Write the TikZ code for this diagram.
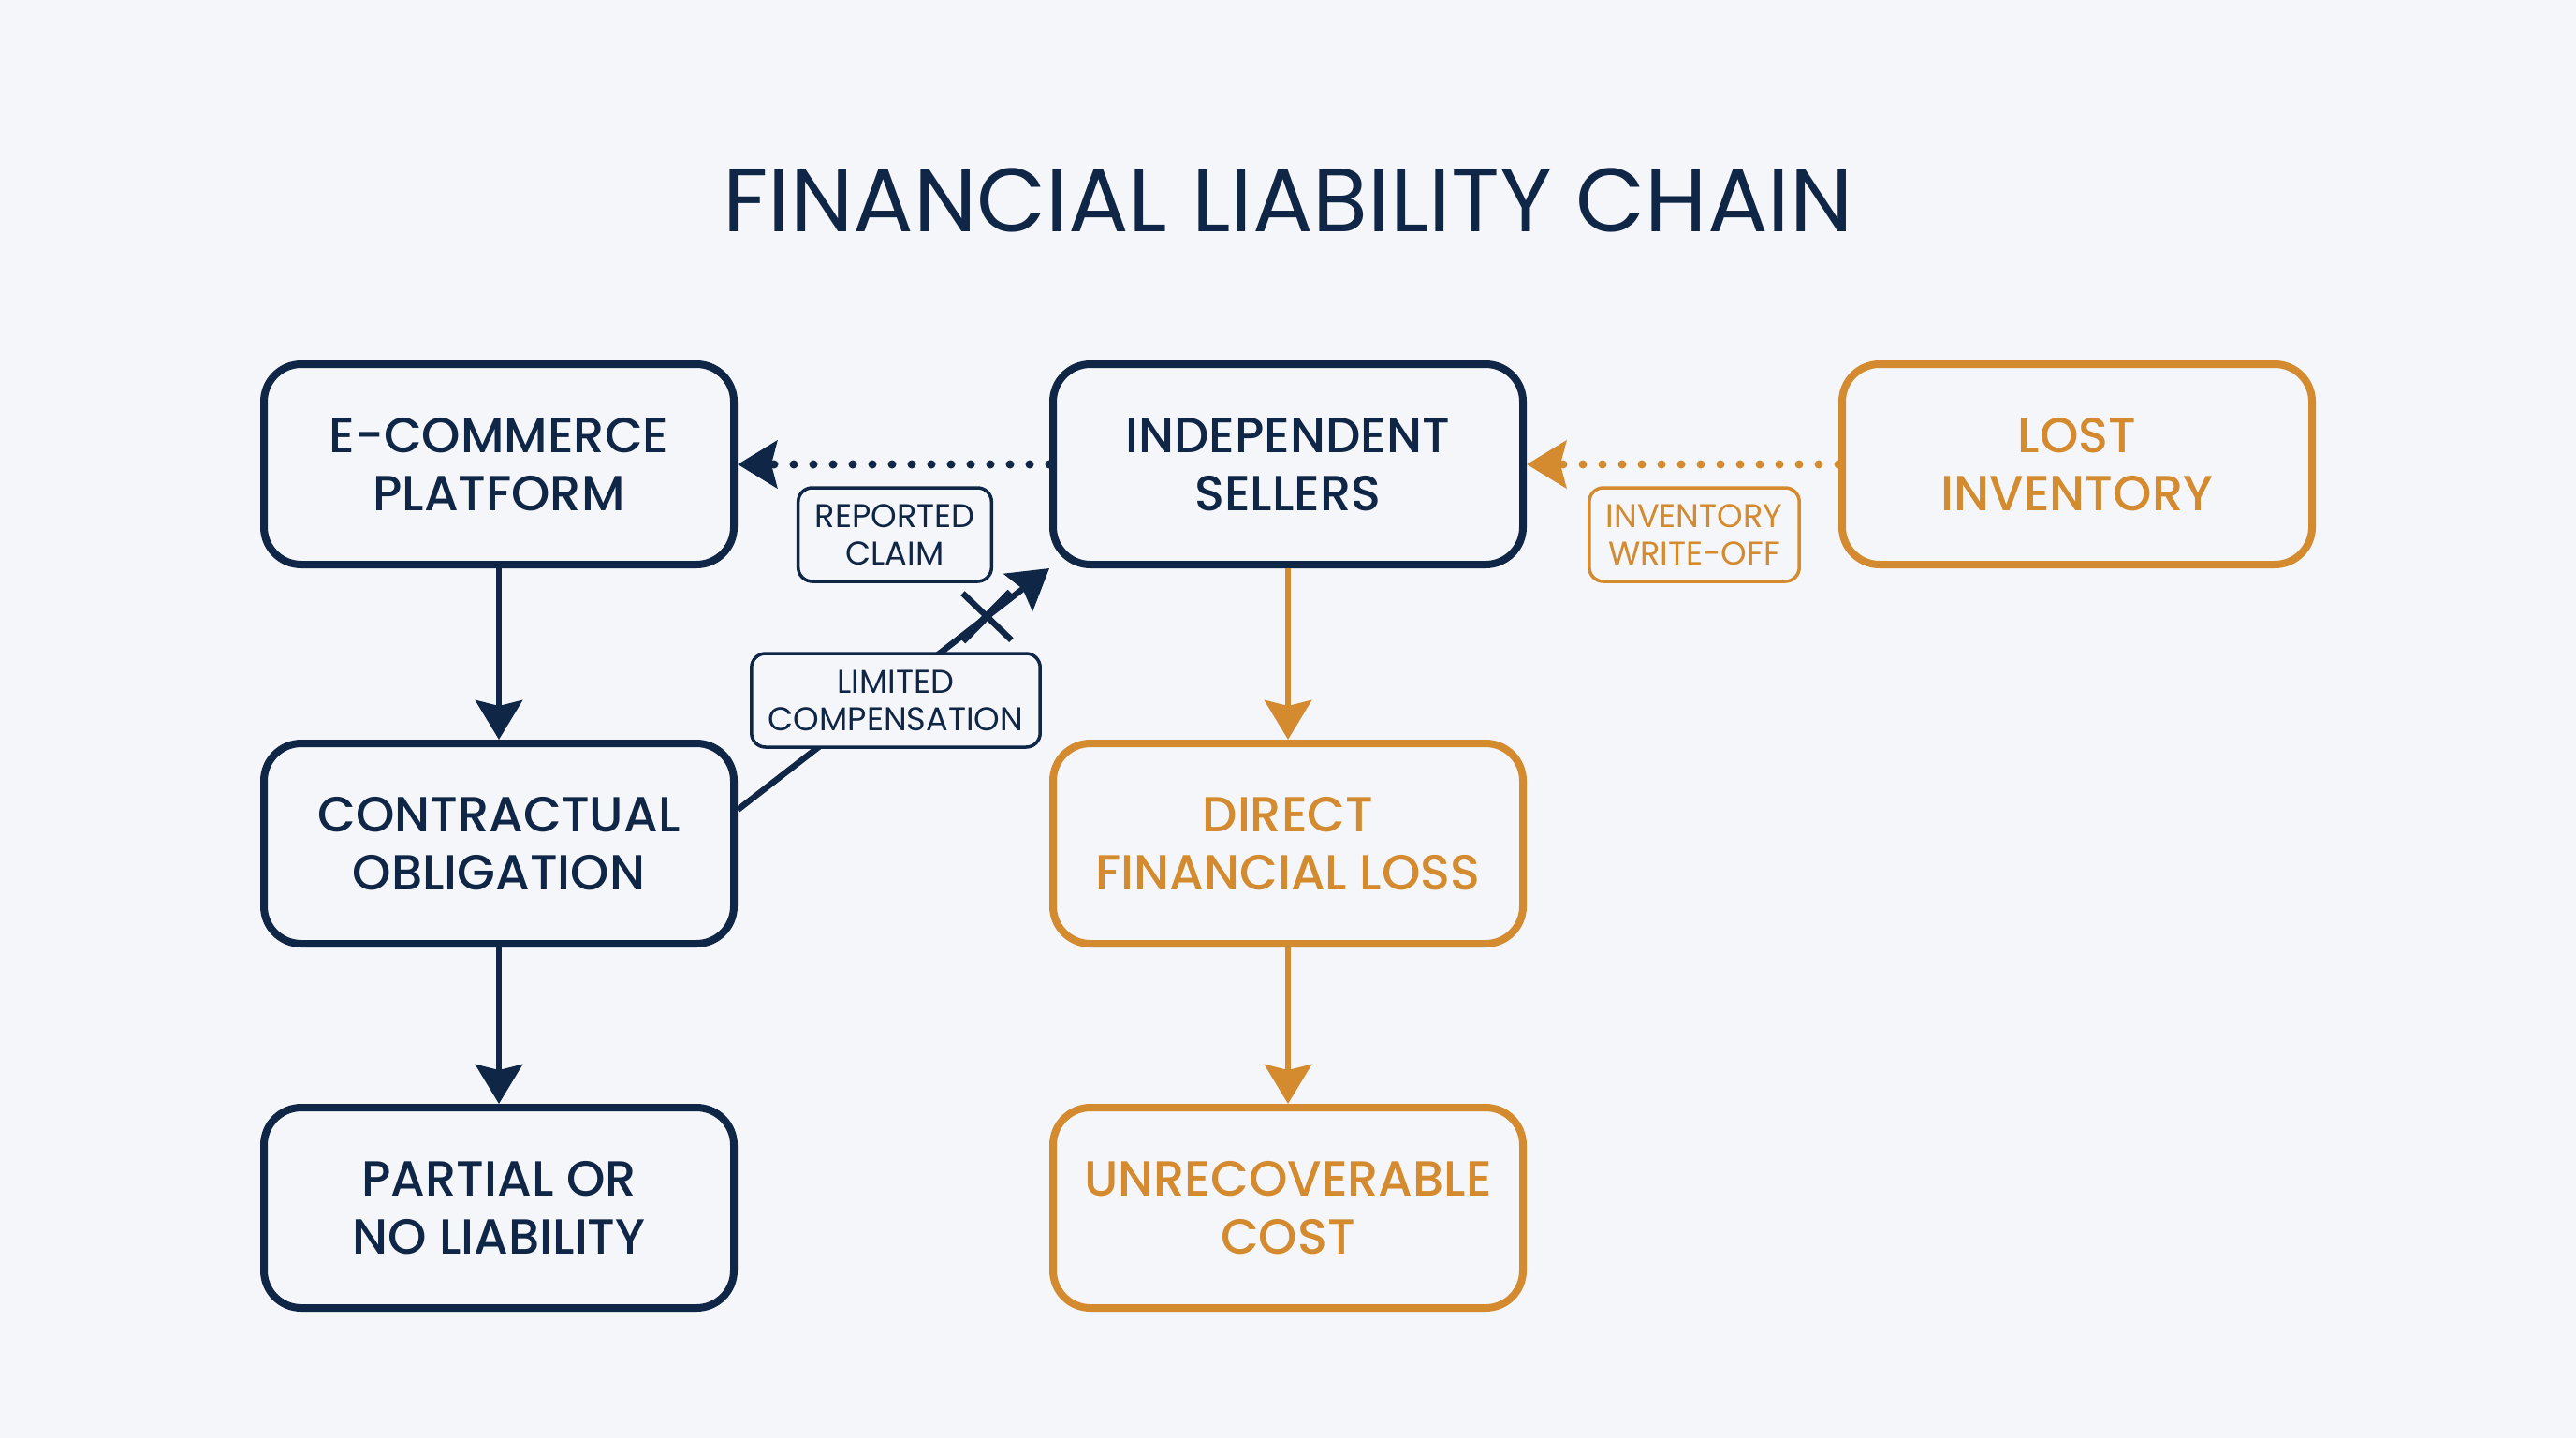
\documentclass[tikz,border=0pt]{standalone}
\usepackage{fontspec}
\setmainfont{Poppins}
\newfontfamily\medfont{Poppins Medium}
\usepackage{xcolor}
\definecolor{navyblue}{RGB}{16, 38, 70}
\definecolor{amberorange}{RGB}{212, 138, 46}
\definecolor{paperbg}{RGB}{244, 246, 249}
\usetikzlibrary{arrows.meta, calc}

\begin{document}
\begin{tikzpicture}[
    block/.style={rectangle, draw=navyblue, text=navyblue, line width=0.08cm, rounded corners=0.4cm, minimum width=5.02cm, minimum height=2.14cm, align=center, font=\medfont\fontsize{15}{17.6}\selectfont},
    lossblock/.style={block, draw=amberorange, text=amberorange},
    tag/.style={rectangle, draw=navyblue, text=navyblue, fill=paperbg, line width=0.035cm, rounded corners=0.15cm, minimum height=1.0cm, inner xsep=0.18cm, align=center, font=\fontsize{10}{11.4}\selectfont},
    losstag/.style={tag, draw=amberorange, text=amberorange},
    flow/.style={draw=navyblue, line width=0.065cm, -{Stealth[length=0.42cm, width=0.5cm, inset=0.06cm]}},
    dotflow/.style={flow, line width=0.09cm, line cap=round, dash pattern=on 0pt off 0.21cm}
]
    % Canvas
    \fill[paperbg] (0, 0) rectangle (27.52, -15.36);
    \useasboundingbox (0, 0) rectangle (27.52, -15.36);

    % Title
    \node[text=navyblue, font=\fontsize{27.3}{30}\selectfont] (title) at (13.76, -2.14) {FINANCIAL LIABILITY CHAIN};

    % Blocks
    \node[block] (platform) at (5.33, -4.96) {E-COMMERCE\\PLATFORM};
    \node[block] (sellers) at (13.76, -4.96) {INDEPENDENT\\SELLERS};
    \node[lossblock] (lost) at (22.19, -4.96) {LOST\\INVENTORY};
    \node[block] (oblig) at (5.33, -9.01) {CONTRACTUAL\\OBLIGATION};
    \node[lossblock] (direct) at (13.76, -9.01) {DIRECT\\FINANCIAL LOSS};
    \node[block] (partial) at (5.33, -12.9) {PARTIAL OR\\NO LIABILITY};
    \node[lossblock] (unrec) at (13.76, -12.9) {UNRECOVERABLE\\COST};

    % Flows
    \draw[flow] (platform) -- (oblig);
    \draw[flow] (oblig) -- (partial);
    \draw[flow, draw=amberorange] (sellers) -- (direct);
    \draw[flow, draw=amberorange] (direct) -- (unrec);
    \draw[dotflow] (sellers) -- (platform);
    \draw[dotflow, draw=amberorange] (lost) -- (sellers);
    \coordinate (compstart) at ([yshift=0.36cm]oblig.east);
    \draw[flow] (compstart) -- (sellers.south west);
    \coordinate (cut) at ($(compstart)!0.8!(sellers.south west)$);
    \draw[navyblue, line width=0.065cm] ([shift={(-0.26, 0.25)}]cut) -- ([shift={(0.26, -0.25)}]cut);
    \draw[navyblue, line width=0.08cm] ([shift={(-0.26, -0.26)}]cut) -- ([shift={(0.25, 0.26)}]cut);

    % Tags
    \node[tag] (claim) at (9.56, -5.71) {REPORTED\\CLAIM};
    \node[tag] (comp) at (9.57, -7.48) {LIMITED\\COMPENSATION};
    \node[losstag] (writeoff) at (18.1, -5.71) {INVENTORY\\WRITE-OFF};
\end{tikzpicture}
\end{document}
